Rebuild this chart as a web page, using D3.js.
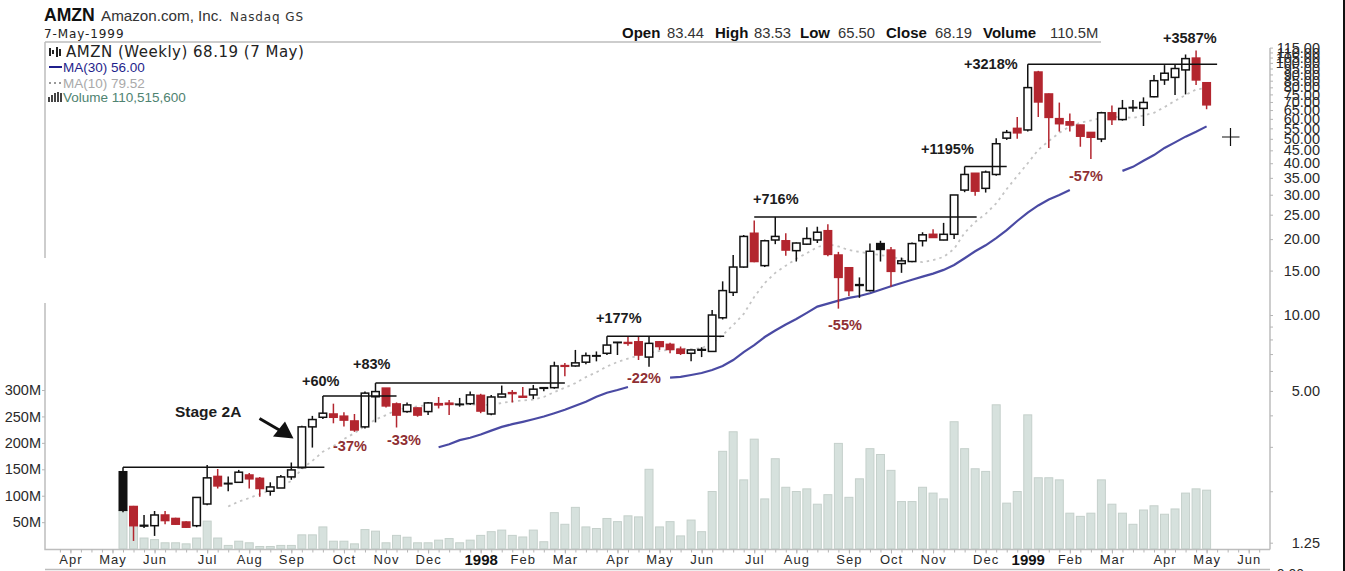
<!DOCTYPE html>
<html>
<head>
<meta charset="utf-8">
<title>AMZN weekly</title>
<script src="https://cdn.jsdelivr.net/npm/d3@7"></script>
<style>
  html, body { margin: 0; background: #fff; overflow: hidden; }
  svg { display: block; font-family: "Liberation Sans", Arial, sans-serif; }
  .axis text { font-size: 14.5px; fill: #2a2a2a; }
  .axis line { stroke: #b5b5b5; }
  .axis.time text { font-size: 13px; letter-spacing: 1px; }
  .axis.time text.year { font-size: 15px; font-weight: 700; letter-spacing: 0; fill: #111; }
  .frame { stroke: #bdbdbd; fill: none; stroke-width: 1.5; }
  .gain { font-size: 14.5px; font-weight: 700; fill: #1c1c1c; }
  .drop { font-size: 14.5px; font-weight: 700; fill: #8f2f33; }
</style>
</head>
<body>
<svg id="chart" width="1345" height="571"></svg>
<script>
const firstWeek = "1997-05-16";
const lastWeek = "1999-05-07";

// weekly bars, oldest first
const opens = [2.39,1.74,1.455,1.46,1.61,1.56,1.51,1.46,1.78,2.29,2.14,2.17,2.32,2.25,2.00,2.06,2.28,2.48,3.60,3.93,
  4.05,3.97,3.80,3.60,4.74,5.13,4.44,4.14,4.28,4.14,4.45,4.47,4.41,4.45,4.80,4.05,4.73,4.92,4.76,4.82,
  5.12,5.15,6.30,6.28,6.50,6.87,7.05,7.77,7.78,7.83,6.81,7.83,7.65,7.32,7.05,7.25,7.17,9.75,12.3,15.5,
  21.1,15.7,19.84,19.7,18.0,19.1,19.84,21.6,17.3,15.4,13.1,12.5,19.2,18.1,16.0,16.3,19.7,20.9,19.84,20.9,
  31.3,36.5,31.8,36.1,50.3,55.0,54.2,92,75.3,60.1,58.4,56.7,53,49.9,63.4,59.6,66.3,66,73.4,85.6,
  87.6,93.8,104.5,83.44];
const highs = [2.49,1.75,1.61,1.67,1.67,1.57,1.52,1.89,2.54,2.45,2.29,2.43,2.36,2.28,2.17,2.32,2.60,3.64,3.98,4.77,
  4.45,4.11,4.05,4.97,5.37,5.13,4.50,4.50,4.30,4.52,4.73,4.60,4.69,4.97,4.87,4.82,5.25,5.04,5.18,5.28,
  5.17,6.53,6.45,7.27,7.10,7.17,8.23,7.82,8.20,8.20,8.20,7.88,7.76,7.50,7.27,7.45,10.47,13.6,17.3,20.77,
  23.7,19.9,24.5,21.1,19.4,22.3,22.4,22.9,17.8,15.5,14.1,19.2,19.7,18.6,16.9,19.4,21.3,21.9,23.2,29.93,
  38.8,36.5,37.4,50.3,54.2,61,98.7,93,75.6,69.6,63,56.8,53.2,64,67.7,71.3,71.3,73,89.6,98,
  98.2,108,112,83.53];
const lows = [1.65,1.27,1.43,1.33,1.48,1.47,1.43,1.44,1.76,2.05,2.00,2.16,2.05,1.90,1.92,2.06,2.22,2.46,2.98,3.87,
  3.72,3.61,3.44,3.55,3.75,4.30,3.58,4.10,3.95,4.01,4.26,4.01,4.33,4.40,4.08,4.00,4.71,4.50,4.70,4.64,
  4.99,5.10,5.72,6.24,6.38,6.55,6.94,6.94,7.55,6.63,6.24,7.27,7.05,6.94,6.55,6.81,7.17,9.6,11.9,15.4,
  16.2,15.5,19.1,17.2,16.3,18.96,19.3,17.1,10.6,11.9,11.7,12.4,16.3,12.95,14.7,16.2,18.7,20.2,19.8,20.0,
  30.7,29.7,30.6,35.7,49.5,50,53.5,61,46,53.4,53.4,46.5,41.6,48.5,56.7,59,64,56.2,73,81.8,
  74.6,75,81.8,65.5];
const closes = [1.68,1.46,1.465,1.61,1.53,1.48,1.44,1.89,2.26,2.10,2.15,2.38,2.24,2.05,2.08,2.28,2.43,3.60,3.85,4.08,
  3.93,3.83,3.50,4.90,4.97,4.36,4.01,4.40,4.01,4.48,4.40,4.42,4.43,4.82,4.16,4.73,4.86,4.88,4.72,5.08,
  5.15,6.28,6.26,6.46,6.90,6.90,7.60,7.80,7.72,6.94,7.72,7.50,7.30,7.05,7.27,7.30,10.0,12.5,15.5,20.5,
  16.3,19.7,20.5,18.1,19.3,20.1,21.3,17.4,14.1,12.5,13.2,17.9,18.2,14.9,16.4,19.2,20.8,20.3,20.9,29.93,
  36.1,31.0,36.9,47.8,53,52.8,79.8,70,60.8,57.4,56.7,51.2,50.7,63.4,59.6,66,66.6,69.7,85,91,
  95,104,85.6,68.19];
// weeks that closed below the previous close (drawn red)
const downWeeks = [1,4,5,6,9,12,13,20,21,22,25,26,28,30,31,34,37,38,42,48,49,51,52,53,60,63,67,68,69,73,77,81,85,
  87,88,89,90,91,92,94,102,103];
// volume in millions of shares
const volumes = [72,44,20,17,11,11,9,20,52,20,6,14,11,4,4,6,6,26,26,41,14,14,9,36,33,11,25,21.5,11,11,16,19,11,16,
  25,32,35,25,22,35,13,68,46,78,41,38,57,51,62,60,150,41,51,24,54,32,108,184,221,130,207,94,170,116,108,113,84,102,
  199,97,132,189,178,148,89,89,116,105,94,240,189,151,146,272,86,108,253,134,134,130,67,61,67,130,84,67,46,73,81,65,
  75,105,113,110.5];
// moving averages, null where the line is not shown
const ma30 = [null,null,null,null,null,null,null,null,null,null,null,null,null,null,null,null,null,null,null,null,
  null,null,null,null,null,null,null,null,null,null,2.99,3.07,3.19,3.26,3.36,3.48,3.60,3.69,3.77,3.86,
  3.96,4.08,4.21,4.37,4.53,4.74,4.92,5.04,5.18,null,null,null,5.65,5.68,5.78,5.89,6.05,6.28,6.63,7.13,
  7.60,8.18,8.68,9.17,9.64,10.2,10.8,11.1,11.4,11.7,11.9,12.2,12.6,13.0,13.4,13.8,14.2,14.6,15.1,15.8,
  16.8,17.9,18.9,20.2,21.7,23.6,25.5,27.2,28.7,29.9,31.3,null,null,null,null,37.3,38.7,40.9,43.1,46.0,
  48.4,51.0,53.3,56.0];
const ma10 = [null,null,null,null,null,null,null,null,null,null,1.74,1.82,1.88,1.95,2.01,2.08,2.20,2.45,2.64,2.87,
  3.02,3.22,3.40,3.63,3.85,4.01,4.20,4.28,4.34,4.40,4.44,4.44,4.44,4.42,4.40,4.40,4.48,4.54,4.58,4.62,
  4.73,4.95,5.15,5.37,5.67,5.93,6.25,6.51,6.72,6.91,7.07,7.20,7.29,7.36,7.33,7.39,7.74,8.33,9.13,10.1,
  11.8,13.4,14.7,15.7,16.7,17.6,18.6,19.1,18.7,18.1,17.8,17.5,17.3,17.0,16.7,16.4,16.2,16.5,17.0,18.3,
  21.2,23.4,25.2,27.7,31.6,35.6,40.0,45.2,49.0,52.8,56.0,57.9,59.1,60.5,61.0,61.0,60.5,61.9,63.4,66.8,
  70.7,74.6,78.4,79.52];

// horizontal resistance lines
const levelPrices = [2.49,4.77,5.37,8.23,24.5,38.8,98.7];
const levelStarts = ["1997-05-16","1997-09-26","1997-10-31","1998-04-03","1998-07-10","1998-11-27","1999-01-08"];
const levelEnds = ["1997-09-27","1997-11-14","1998-03-06","1998-06-20","1998-12-05","1998-12-25","1999-05-14"];

const priceTicks = [1.25,5,10,15,20,25,30,35,40,45,50,55,60,65,70,75,80,85,90,95,100,105,110,115];
const priceMinorTicks = [2,3,4,6,7,8,9];
const volumeTicks = [50,100,150,200,250,300];
const monthDates = ["1997-04-11","1997-05-09","1997-06-06","1997-07-11","1997-08-08","1997-09-05","1997-10-10",
  "1997-11-07","1997-12-05","1998-01-09","1998-02-06","1998-03-06","1998-04-10","1998-05-08","1998-06-05",
  "1998-07-10","1998-08-07","1998-09-11","1998-10-09","1998-11-06","1998-12-11","1999-01-08","1999-02-05",
  "1999-03-05","1999-04-09","1999-05-07","1999-06-04"];
const monthLabels = ["Apr","May","Jun","Jul","Aug","Sep","Oct","Nov","Dec","1998","Feb","Mar","Apr","May","Jun",
  "Jul","Aug","Sep","Oct","Nov","Dec","1999","Feb","Mar","Apr","May","Jun"];

const quoteNames = ["Open","High","Low","Close","Volume"];
const quoteValues = ["83.44","83.53","65.50","68.19","110.5M"];
const gainLabels = ["+60%","+83%","+177%","+716%","+1195%","+3218%","+3587%"];
const dropLabels = ["-37%","-33%","-22%","-55%","-57%"];

const RED = "#b3262f";
const BODY_W = 7.5;

const parseDay = d3.timeParse("%Y-%m-%d");
const weeks = d3.timeFriday.range(parseDay(firstWeek), d3.timeDay.offset(parseDay(lastWeek), 1));

const x = d3.scaleTime().domain([parseDay(firstWeek), parseDay(lastWeek)]).range([123, 1206.6]);
const y = d3.scaleLog().domain([1.25, 115]).range([542.7, 47.6]);
const yVol = d3.scaleLinear().domain([0, 300]).range([548.6, 390]);

const svg = d3.select("#chart");

// frame
const frame = svg.append("g").attr("class", "frame");
frame.append("path").attr("d", "M45,42V258M45,303V549.5H1270M45,569.5H1270M45,42H1101");
frame.append("path").attr("d", "M1270,48V549.5");

// volume
svg.append("g").selectAll("rect").data(volumes).join("rect")
  .attr("x", (d, i) => x(weeks[i]) - 4)
  .attr("width", 8)
  .attr("y", d => yVol(d))
  .attr("height", d => yVol(0) - yVol(d))
  .attr("fill", "#d6e1dd")
  .attr("stroke", "#c5d0cb");

// moving averages
const maLine = d3.line()
  .defined(d => d !== null)
  .x((d, i) => x(weeks[i]))
  .y(d => y(d));
svg.append("path").datum(ma10).attr("d", maLine)
  .attr("fill", "none").attr("stroke", "#c4c4c4").attr("stroke-width", 1.8).attr("stroke-dasharray", "2.5 4");
svg.append("path").datum(ma30).attr("d", maLine)
  .attr("fill", "none").attr("stroke", "#4a4aa3").attr("stroke-width", 2.2);

// candles
const barColor = i => downWeeks.includes(i) ? RED : "#111";
const candle = svg.append("g").selectAll("g").data(weeks).join("g")
  .attr("transform", d => `translate(${x(d)},0)`);
candle.append("line")
  .attr("y1", (d, i) => y(highs[i]))
  .attr("y2", (d, i) => y(lows[i]))
  .attr("stroke", (d, i) => barColor(i))
  .attr("stroke-width", 1.5);
candle.append("rect")
  .attr("x", -BODY_W / 2)
  .attr("width", BODY_W)
  .attr("y", (d, i) => y(Math.max(opens[i], closes[i])))
  .attr("height", (d, i) => Math.abs(y(opens[i]) - y(closes[i])))
  .attr("fill", (d, i) => closes[i] < opens[i] ? barColor(i) : "#fff")
  .attr("stroke", (d, i) => barColor(i))
  .attr("stroke-width", 1.5);

// resistance lines
svg.append("g").selectAll("line").data(levelPrices).join("line")
  .attr("x1", (d, i) => x(parseDay(levelStarts[i])))
  .attr("x2", (d, i) => x(parseDay(levelEnds[i])))
  .attr("y1", d => y(d))
  .attr("y2", d => y(d))
  .attr("stroke", "#111")
  .attr("stroke-width", 1.5);

// axes
const priceFormat = d => priceTicks.includes(d) ? d3.format(".2f")(d) : "";
const rightAxis = svg.append("g").attr("class", "axis").attr("transform", "translate(1270,0)")
  .call(d3.axisRight(y).tickValues(priceTicks.concat(priceMinorTicks)).tickFormat(priceFormat).tickSize(3));
rightAxis.select(".domain").remove();
rightAxis.selectAll("text").attr("x", 50).attr("text-anchor", "end");

const leftAxis = svg.append("g").attr("class", "axis").attr("transform", "translate(45,0)")
  .call(d3.axisLeft(yVol).tickValues(volumeTicks).tickFormat(d => d + "M").tickSize(3).tickPadding(1));
leftAxis.select(".domain").remove();

const weekTicks = d3.timeFriday.range(parseDay("1997-04-04"), parseDay("1999-06-12"));
const minorAxis = svg.append("g").attr("class", "axis").attr("transform", "translate(0,549.5)")
  .call(d3.axisBottom(x).tickValues(weekTicks).tickFormat("").tickSize(3));
minorAxis.select(".domain").remove();

const monthTicks = monthDates.map(parseDay);
const timeAxis = svg.append("g").attr("class", "axis time").attr("transform", "translate(0,549.5)")
  .call(d3.axisBottom(x).tickValues(monthTicks)
    .tickFormat((d, i) => monthLabels[i]).tickSize(4).tickPadding(1));
timeAxis.select(".domain").remove();
timeAxis.selectAll("text").classed("year", t => t.getMonth() === 0);
// the very last row of the lower panel is cut off by the window
svg.append("text").attr("x", 1304).attr("y", 579).attr("text-anchor", "end")
  .attr("font-size", 14).attr("fill", "#2a2a2a").text("0.00");

// header
svg.append("text").attr("x", 44).attr("y", 21).attr("font-size", 17.6).attr("font-weight", 700)
  .attr("fill", "#111").text("AMZN");
svg.append("text").attr("x", 101).attr("y", 21).attr("font-size", 15.2).attr("fill", "#333")
  .text("Amazon.com, Inc.");
svg.append("text").attr("x", 230).attr("y", 21).attr("font-size", 12).attr("fill", "#333")
  .attr("font-family", "DejaVu Sans").attr("letter-spacing", 0.9).text("Nasdaq GS");
svg.append("text").attr("x", 44).attr("y", 38).attr("font-size", 12).attr("fill", "#222")
  .attr("font-family", "DejaVu Sans").attr("letter-spacing", 0.9).text("7-May-1999");

const quoteNameX = [622, 715, 800, 886, 983];
const quoteValueX = [667, 754, 838, 935, 1050];
svg.append("g").selectAll("text").data(quoteNames).join("text")
  .attr("x", (d, i) => quoteNameX[i]).attr("y", 38).attr("font-size", 15).attr("font-weight", 700)
  .attr("fill", "#111").text(d => d);
svg.append("g").selectAll("text").data(quoteValues).join("text")
  .attr("x", (d, i) => quoteValueX[i]).attr("y", 38).attr("font-size", 14.8).attr("fill", "#333")
  .text(d => d);

// legend
svg.append("text").attr("x", 66).attr("y", 57).attr("font-size", 15).attr("font-family", "DejaVu Sans")
  .attr("letter-spacing", 0.5).attr("fill", "#222").text("AMZN (Weekly) 68.19 (7 May)");
svg.append("text").attr("x", 63).attr("y", 72).attr("font-size", 13.5).attr("fill", "#1f1f8c").text("MA(30) 56.00");
svg.append("text").attr("x", 63).attr("y", 88).attr("font-size", 13.5).attr("fill", "#a9a9a9").text("MA(10) 79.52");
svg.append("text").attr("x", 63).attr("y", 102).attr("font-size", 13.5).attr("fill", "#4f8371").text("Volume 110,515,600");
const legendIcons = svg.append("g");
legendIcons.append("path").attr("d", "M50,48V56M53,50V54M57,47V57M60,49V56")
  .attr("stroke", "#222").attr("stroke-width", 2);
legendIcons.append("line").attr("x1", 49).attr("x2", 62).attr("y1", 67).attr("y2", 67)
  .attr("stroke", "#1f1f8c").attr("stroke-width", 2);
legendIcons.append("line").attr("x1", 49).attr("x2", 62).attr("y1", 83).attr("y2", 83)
  .attr("stroke", "#999").attr("stroke-width", 2).attr("stroke-dasharray", "2 3");
legendIcons.append("path").attr("d", "M49,102V97M52,102V95M55,102V93M58,102V92M61,102V93")
  .attr("stroke", "#444").attr("stroke-width", 2);

// annotations
const gainX = [302, 353, 596, 753, 921, 964, 1163];
const gainY = [386, 369, 323, 204, 154, 69, 43];
svg.append("g").selectAll("text").data(gainLabels).join("text").attr("class", "gain")
  .attr("x", (d, i) => gainX[i]).attr("y", (d, i) => gainY[i]).text(d => d);
const dropX = [333, 387, 627, 828, 1069];
const dropY = [451, 445, 383, 330, 181];
svg.append("g").selectAll("text").data(dropLabels).join("text").attr("class", "drop")
  .attr("x", (d, i) => dropX[i]).attr("y", (d, i) => dropY[i]).text(d => d);

svg.append("text").attr("class", "gain").attr("x", 175).attr("y", 417).attr("font-size", 15.5)
  .style("font-size", "15.5px").text("Stage 2A");
svg.append("line").attr("x1", 259.5).attr("y1", 418.5).attr("x2", 281).attr("y2", 431)
  .attr("stroke", "#111").attr("stroke-width", 3);
svg.append("polygon").attr("points", "293.5,438.5 285,421.5 273,436.5").attr("fill", "#111");

// crosshair and window edge
svg.append("path").attr("d", "M1222,137H1239.5M1230.5,128V146").attr("stroke", "#111").attr("stroke-width", 1.2);
svg.append("rect").attr("x", 1343).attr("y", 0).attr("width", 2).attr("height", 571).attr("fill", "#111");
</script>
</body>
</html>
